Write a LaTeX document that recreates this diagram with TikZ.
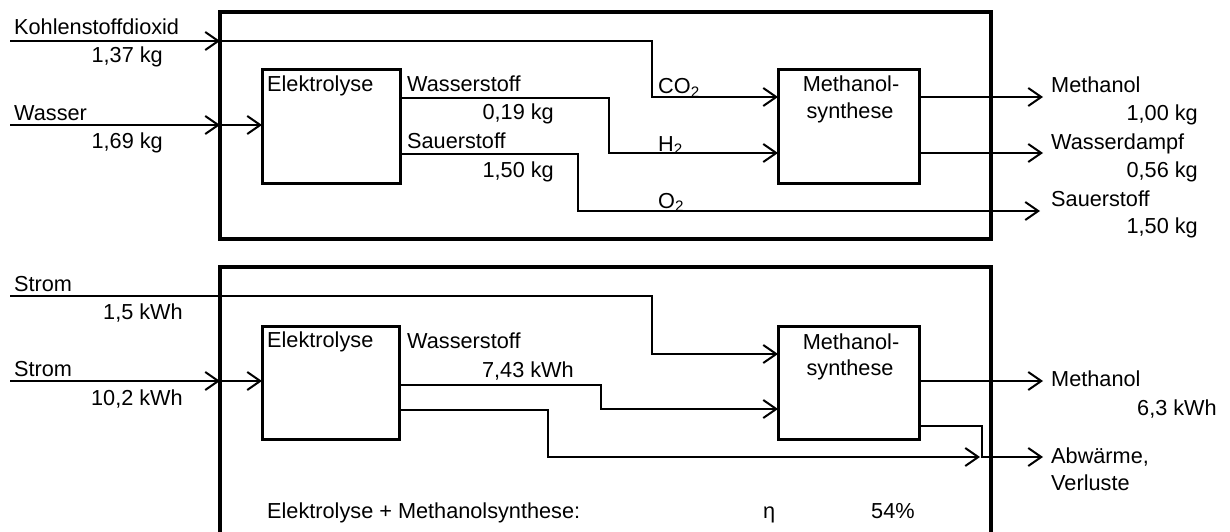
\documentclass[tikz,border=0pt]{standalone}
\usepackage{fontspec}
\setmainfont{Liberation Sans}
\usetikzlibrary{arrows.meta}
\begin{document}
\begin{tikzpicture}[x=1pt,y=-1pt,
  outerbox/.style={draw,line width=3.5pt,inner sep=0pt,outer sep=0pt,anchor=north west},
  procbox/.style={draw,line width=3pt,inner sep=0pt,outer sep=0pt,anchor=north west},
  flow/.style={line width=2pt},
  arr/.style={flow,-{Straight Barb[length=13pt,width=18pt]}},
  lbl/.style={inner sep=0pt,anchor=base west,font=\fontsize{21.7}{26}\selectfont},
  val/.style={inner sep=0pt,anchor=base east,font=\fontsize{21.7}{26}\selectfont},
  ctr/.style={inner sep=0pt,anchor=base,font=\fontsize{21.7}{26}\selectfont},
  ]
\useasboundingbox (0,0) rectangle (1230,532);
\clip (0,0) rectangle (1230,532);
% ---------------- top panel ----------------
\node[outerbox,minimum width=771pt,minimum height=227pt] (t) at (220,12) {};
\node[procbox,minimum width=138pt,minimum height=113pt] (te) at (262,70) {};
\node[procbox,minimum width=141pt,minimum height=113pt] (tm) at (778,70) {};
\coordinate (co2in) at (10,41);
\coordinate (co2b) at (652,97);
\coordinate (win) at (10,125);
\coordinate (h2b) at (609,153);
\coordinate (o2b) at (578,211);
\coordinate (o2out) at (1040,211);
\coordinate (meout) at (1043,97);
\coordinate (wdout) at (1043,153);
\draw[arr] (co2in) -- (t.west |- co2in);
\draw[arr] (t.west |- co2in) -| (co2b) -- (tm.west |- co2b);
\draw[arr] (win) -- (t.west |- win);
\draw[arr] (t.west |- win) -- (te.west |- win);
\draw[arr] (te.east |- 0,98) -| (h2b) -- (tm.west |- h2b);
\draw[arr] (te.east |- 0,154) -| (o2b) -- (o2out);
\draw[arr] (tm.east |- meout) -- (meout);
\draw[arr] (tm.east |- wdout) -- (wdout);
\node[lbl] (l1) at (14,35) {Kohlenstoffdioxid};
\node[val] (l2) at (163,63) {1,37 kg};
\node[lbl] (l3) at (14,121) {Wasser};
\node[val] (l4) at (163,148) {1,69 kg};
\node[lbl] (l5) at (267,92) {Elektrolyse};
\node[lbl] (l6) at (407,92) {Wasserstoff};
\node[val] (l7) at (554,120) {0,19 kg};
\node[lbl] (l8) at (407,148) {Sauerstoff};
\node[val] (l9) at (554,177) {1,50 kg};
\node[lbl] (l10) at (658,94) {CO\textsubscript{2}};
\node[lbl] (l11) at (658,151) {H\textsubscript{2}};
\node[lbl] (l12) at (658,208) {O\textsubscript{2}};
\node[ctr] (l13) at (851,92) {Methanol-};
\node[ctr] (l14) at (850,118) {synthese};
\node[lbl] (l15) at (1051,93) {Methanol};
\node[val] (l16) at (1198,121) {1,00 kg};
\node[lbl] (l17) at (1051,149) {Wasserdampf};
\node[val] (l18) at (1198,177) {0,56 kg};
\node[lbl] (l19) at (1051,206) {Sauerstoff};
\node[val] (l20) at (1198,233) {1,50 kg};
% ---------------- bottom panel ----------------
\node[outerbox,minimum width=771pt,minimum height=300pt] (b) at (220,267) {};
\node[procbox,minimum width=137pt,minimum height=113pt] (be) at (262,326) {};
\node[procbox,minimum width=141pt,minimum height=113pt] (bm) at (778,326) {};
\coordinate (s1in) at (10,296);
\coordinate (s1b) at (652,354);
\coordinate (s2in) at (10,381);
\coordinate (bh2b) at (601,409);
\coordinate (wb) at (548,457);
\coordinate (wend) at (980,457);
\coordinate (mb) at (982,457);
\coordinate (bmeout) at (1043,381);
\coordinate (abw) at (1043,457);
\draw[flow,->,arr] (s1in) -| (s1b) -- (bm.west |- s1b);
\draw[arr] (s2in) -- (b.west |- s2in);
\draw[arr] (b.west |- s2in) -- (be.west |- s2in);
\draw[arr] (be.east |- 0,385) -| (bh2b) -- (bm.west |- bh2b);
\draw[arr] (be.east |- 0,410) -| (wb) -- (wend);
\draw[arr] (bm.east |- bmeout) -- (bmeout);
\draw[arr] (bm.east |- 0,426) -| (mb) -- (abw);
\node[lbl] (m1) at (14,291) {Strom};
\node[val] (m2) at (183,319) {1,5 kWh};
\node[lbl] (m3) at (14,376) {Strom};
\node[val] (m4) at (183,405) {10,2 kWh};
\node[lbl] (m5) at (267,347) {Elektrolyse};
\node[lbl] (m6) at (407,348) {Wasserstoff};
\node[val] (m7) at (574,377) {7,43 kWh};
\node[ctr] (m8) at (851,349) {Methanol-};
\node[ctr] (m9) at (850,375) {synthese};
\node[lbl] (m10) at (1051,386) {Methanol};
\node[val] (m11) at (1217,415) {6,3 kWh};
\node[lbl] (m12) at (1051,463) {Abwärme,};
\node[lbl] (m13) at (1051,490) {Verluste};
\node[lbl] (m14) at (267,518) {Elektrolyse + Methanolsynthese:};
\node[lbl] (m15) at (763,518) {η};
\node[lbl] (m16) at (871,518) {54\%};
\end{tikzpicture}
\end{document}
